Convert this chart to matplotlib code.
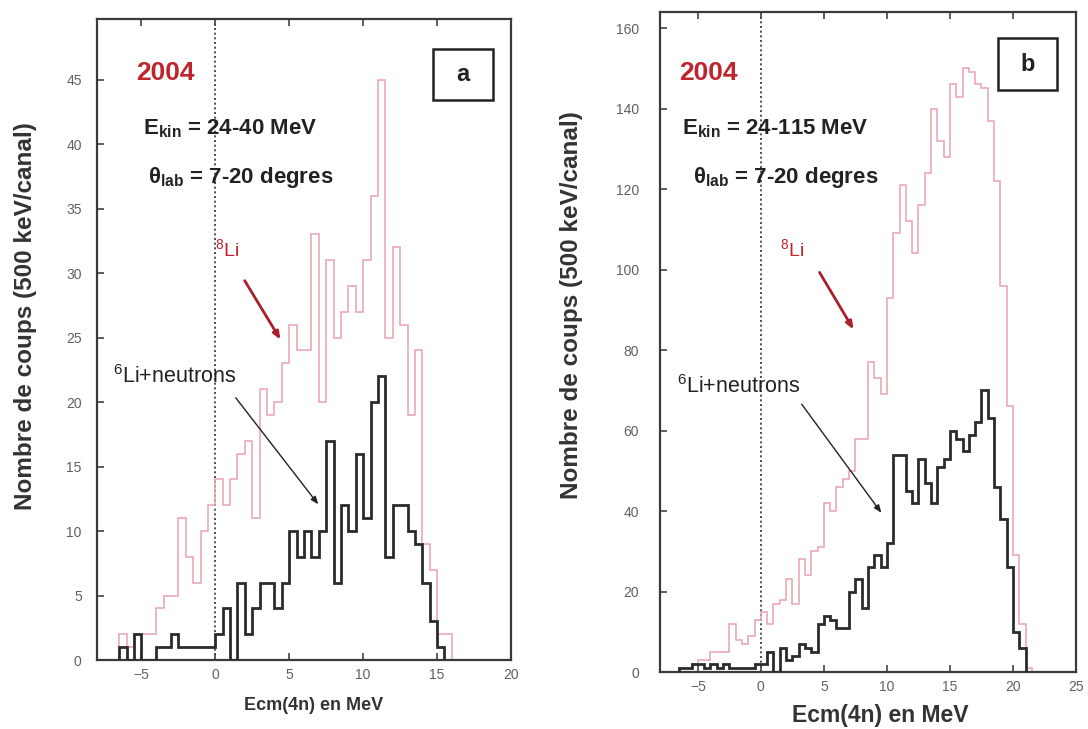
import numpy as np
import matplotlib
matplotlib.use("Agg")
import matplotlib.pyplot as plt
from matplotlib.patches import Rectangle

plt.rcParams['font.family'] = ['Liberation Sans', 'DejaVu Sans']
plt.rcParams['mathtext.fontset'] = 'custom'
plt.rcParams['mathtext.rm'] = 'Liberation Sans'
plt.rcParams['mathtext.bf'] = 'Liberation Sans:bold'

# ---------------- data (500 keV bins, value = counts) ----------------
bin_width = 0.5
a_start = -6.5
a_li8 = [2, 1, 2, 2, 2, 4, 5, 5, 11, 8, 6, 10, 12, 14, 12, 14, 16, 17, 11, 21,
         19, 20, 23, 26, 24, 24, 33, 20, 31, 25, 27, 29, 27, 31, 36, 45, 25, 32,
         26, 19, 24, 9, 7, 2, 2]
a_li6n = [1, 0, 2, 0, 0, 1, 1, 2, 1, 1, 1, 1, 1, 2, 4, 0, 6, 2, 4, 6, 6, 4, 6,
          10, 8, 10, 8, 10, 17, 6, 12, 10, 16, 11, 20, 22, 8, 12, 12, 10, 9, 6,
          3, 1]

b_start = -6.5
b_li8 = [1, 1, 2, 3, 3, 5, 5, 5, 12, 8, 7, 9, 13, 15, 12, 17, 18, 23, 17, 28,
         24, 30, 31, 42, 40, 46, 48, 50, 58, 58, 77, 73, 69, 93, 109, 121, 112,
         104, 116, 124, 140, 132, 128, 146, 143, 150, 149, 146, 145, 137, 122,
         96, 66, 29, 12, 1]
b_li6n = [1, 1, 2, 2, 1, 2, 1, 2, 1, 1, 1, 1, 2, 2, 5, 0, 6, 3, 4, 7, 6, 5, 12,
          14, 13, 11, 11, 20, 23, 16, 26, 29, 26, 32, 54, 54, 45, 42, 53, 47, 42,
          51, 53, 60, 58, 55, 59, 62, 70, 63, 46, 38, 26, 10, 6]

a_xticks = [-5, 0, 5, 10, 15, 20]
a_yticks = [0, 5, 10, 15, 20, 25, 30, 35, 40, 45]
b_xticks = [-5, 0, 5, 10, 15, 20, 25]
b_yticks = [0, 20, 40, 60, 80, 100, 120, 140, 160]

xlabel = "Ecm(4n) en MeV"
ylabel = "Nombre de coups (500 keV/canal)"

RED_HIST = "#eba3ad"
BLACK_HIST = "#2b2b2b"
RED_TXT = "#c0252e"
TICK_COL = "#606060"
TXT = "#222222"

fig = plt.figure(figsize=(10.88, 7.29), dpi=100)
W, H = 1088, 729


def axes_px(l, r, t, b):
    return fig.add_axes([l / W, 1 - b / H, (r - l) / W, (b - t) / H])


def edges(start, vals):
    return start + bin_width * np.arange(len(vals) + 1)


def style(ax, xlim, ylim, xt, yt, ypad):
    ax.set_xlim(*xlim)
    ax.set_ylim(*ylim)
    ax.set_xticks(xt)
    ax.set_yticks(yt)
    ax.tick_params(direction='in', length=5, width=1.2, top=True, right=False,
                   labelsize=10, colors='#444444', labelcolor=TICK_COL)
    ax.tick_params(axis='x', pad=6)
    ax.tick_params(axis='y', pad=ypad)
    for s in ax.spines.values():
        s.set_linewidth(1.6)
        s.set_color('#3a3a3a')
    ax.axvline(0, color='#333333', lw=1.2, ls=(0, (1.2, 1.6)), zorder=1)


def panel_box(ax, x0, x1, y0, y1, letter):
    ax.add_patch(Rectangle((x0, y0), x1 - x0, y1 - y0, fill=True, fc='white',
                           ec=TXT, lw=1.8, zorder=5))
    ax.text((x0 + x1) / 2, (y0 + y1) / 2, letter, fontsize=17, fontweight='bold',
            ha='center', va='center', color=TXT, zorder=6)


arrow_red = dict(arrowstyle='-|>,head_length=0.45,head_width=0.18',
                 color='#a8202a', lw=2.0)
arrow_blk = dict(arrowstyle='-|>,head_length=0.45,head_width=0.18',
                 color=TXT, lw=1.0)

# ---------------- panel a ----------------
ax1 = axes_px(97, 511, 19, 660)
style(ax1, (-8, 20), (0, 49.7), a_xticks, a_yticks, 11)
ax1.stairs(a_li8, edges(a_start, a_li8), color=RED_HIST, lw=1.1, zorder=2)
ax1.stairs(a_li6n, edges(a_start, a_li6n), color=BLACK_HIST, lw=2.0, zorder=3)
ax1.set_xlabel(xlabel, fontsize=13, fontweight='bold', color='#333333')
ax1.set_ylabel(ylabel, fontsize=17.5, fontweight='bold', color='#333333')
ax1.xaxis.set_label_coords(0.524, -0.057)
ax1.yaxis.set_label_coords(-0.145, 0.537)

ax1.text(-3.4, 45.5, "2004", color=RED_TXT, fontsize=19, fontweight='bold',
         ha='center', va='center')
panel_box(ax1, 14.72, 18.78, 43.4, 47.36, "a")
ax1.text(-4.89, 41.2, r"E$_{\mathbf{kin}}$ = 24-40 MeV", fontsize=16,
         fontweight='bold', ha='left', va='center', color=TXT)
ax1.text(-4.55, 37.4, r"$\mathbf{\theta}_{\mathbf{lab}}$ = 7-20 degres", fontsize=16,
         fontweight='bold', ha='left', va='center', color=TXT)
ax1.text(-0.02, 31.8, r"$^{8}$Li", fontsize=14, color=RED_TXT, ha='left', va='center')
ax1.annotate("", xy=(4.51, 24.65), xytext=(1.89, 29.6), arrowprops=arrow_red)
ax1.text(-6.9, 22.0, r"$^{6}$Li+neutrons", fontsize=15.5, color=TXT,
         ha='left', va='center')
ax1.annotate("", xy=(7.08, 11.9), xytext=(1.27, 20.5), arrowprops=arrow_blk)

# ---------------- panel b ----------------
ax2 = axes_px(660, 1076, 12, 672)
style(ax2, (-8, 25), (0, 164), b_xticks, b_yticks, 15)
ax2.stairs(b_li8, edges(b_start, b_li8), color=RED_HIST, lw=1.1, zorder=2)
ax2.stairs(b_li6n, edges(b_start, b_li6n), color=BLACK_HIST, lw=2.0, zorder=3)
ax2.set_xlabel(xlabel, fontsize=16.5, fontweight='bold', color='#333333')
ax2.set_ylabel(ylabel, fontsize=17.5, fontweight='bold', color='#333333')
ax2.xaxis.set_label_coords(0.529, -0.048)
ax2.yaxis.set_label_coords(-0.185, 0.556)

ax2.text(-4.19, 148.8, "2004", color=RED_TXT, fontsize=19, fontweight='bold',
         ha='center', va='center')
panel_box(ax2, 18.82, 23.5, 144.6, 157.5, "b")
ax2.text(-6.25, 134.9, r"E$_{\mathbf{kin}}$ = 24-115 MeV", fontsize=16,
         fontweight='bold', ha='left', va='center', color=TXT)
ax2.text(-5.38, 123.0, r"$\mathbf{\theta}_{\mathbf{lab}}$ = 7-20 degres", fontsize=16,
         fontweight='bold', ha='left', va='center', color=TXT)
ax2.text(1.52, 104.8, r"$^{8}$Li", fontsize=14, color=RED_TXT, ha='left', va='center')
ax2.annotate("", xy=(7.47, 84.5), xytext=(4.54, 99.9), arrowprops=arrow_red)
ax2.text(-6.65, 71.0, r"$^{6}$Li+neutrons", fontsize=15.5, color=TXT,
         ha='left', va='center')
ax2.annotate("", xy=(9.69, 39.0), xytext=(3.11, 67.1), arrowprops=arrow_blk)

fig.savefig("out.png", dpi=100)
